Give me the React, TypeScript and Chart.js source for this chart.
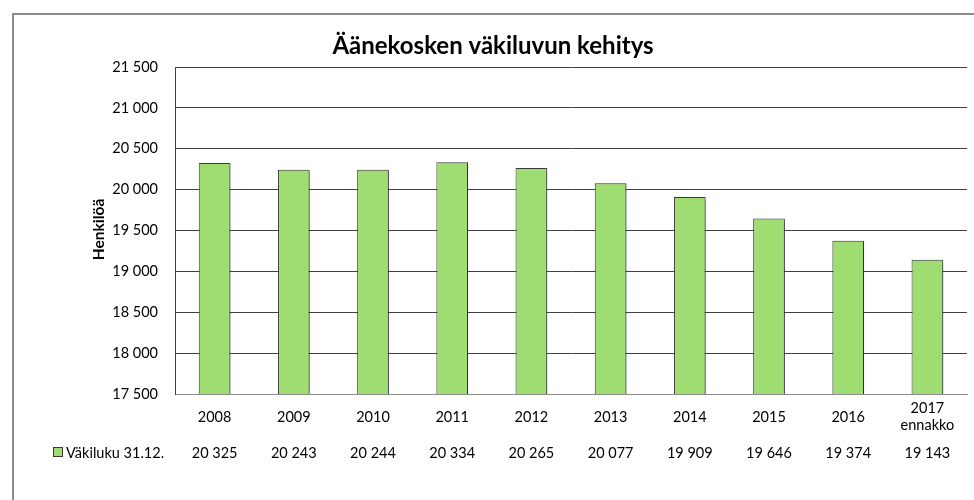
import React, { useEffect, useRef } from "react";
import { Chart, registerables } from "chart.js";

Chart.register(...registerables);

const title = "Äänekosken väkiluvun kehitys";
const yTitle = "Henkilöä";
const seriesName = "Väkiluku 31.12.";
const categories: (string | string[])[] = ["2008", "2009", "2010", "2011", "2012", "2013", "2014", "2015", "2016", ["2017", "ennakko"]];
const values = [20325, 20243, 20244, 20334, 20265, 20077, 19909, 19646, 19374, 19143];
const yMin = 17500;
const yMax = 21500;
const yStep = 500;

const FONT = "Lato, 'Noto Sans', sans-serif";
const BAR = "#9fdc72";
const BAR_BORDER = "#3a3a3a";

const fmt = (v: number) => {
  const s = Math.round(v).toString();
  return s.replace(/\B(?=(\d{3})+(?!\d))/g, " ");
};

const decor = {
  id: "decor",
  beforeDraw(chart: any) {
    const ctx = chart.ctx;
    ctx.save();
    ctx.fillStyle = "#ffffff";
    ctx.fillRect(0, 0, chart.width, chart.height);
    ctx.strokeStyle = "#8c8c8c";
    ctx.lineWidth = 2;
    ctx.beginPath();
    ctx.moveTo(13, chart.height);
    ctx.lineTo(13, 14);
    ctx.lineTo(chart.width, 14);
    ctx.stroke();
    ctx.restore();
  },
  beforeDatasetDraw(chart: any) {
    const ctx = chart.ctx;
    ctx.save();
    ctx.shadowColor = "rgba(0,0,0,0.35)";
    ctx.shadowOffsetX = 2;
    ctx.shadowOffsetY = 1;
    ctx.shadowBlur = 2;
  },
  afterDatasetDraw(chart: any) {
    chart.ctx.restore();
  },
  afterDraw(chart: any) {
    const ctx = chart.ctx;
    const xs = chart.scales.x;
    const area = chart.chartArea;
    ctx.save();
    // title
    ctx.fillStyle = "#000";
    ctx.textAlign = "center";
    ctx.textBaseline = "middle";
    ctx.font = `bold 24px ${FONT}`;
    ctx.fillText(title, (area.left + area.right) / 2 - 78, 46);
    // y title
    ctx.save();
    ctx.translate(99, (area.top + area.bottom) / 2 - 1);
    ctx.rotate(-Math.PI / 2);
    ctx.font = `bold 15.5px ${FONT}`;
    ctx.fillText(yTitle, 0, 0);
    ctx.restore();
    // category labels
    ctx.font = `14.5px ${FONT}`;
    categories.forEach((c, i) => {
      const x = xs.getPixelForValue(i);
      const lines = Array.isArray(c) ? c : [c];
      const lh = 17;
      const y0 = 417 - ((lines.length - 1) * lh) / 2;
      lines.forEach((l, j) => ctx.fillText(l, x, y0 + j * lh));
    });
    // data table row
    const rowY = 453;
    values.forEach((v, i) => {
      ctx.fillText(fmt(v), xs.getPixelForValue(i), rowY);
    });
    // legend key
    ctx.fillStyle = BAR;
    ctx.fillRect(53.5, 447.5, 9, 9);
    ctx.strokeStyle = BAR_BORDER;
    ctx.lineWidth = 1;
    ctx.strokeRect(53.5, 447.5, 9, 9);
    ctx.fillStyle = "#000";
    ctx.textAlign = "left";
    ctx.fillText(seriesName, 66, rowY);
    ctx.restore();
  },
};

export default function App() {
  const ref = useRef<HTMLCanvasElement>(null);
  useEffect(() => {
    document.body.style.margin = "0";
    const chart = new Chart(ref.current!, {
      type: "bar",
      data: {
        labels: categories.map((c) => (Array.isArray(c) ? c.join(" ") : c)),
        datasets: [
          {
            label: seriesName,
            data: values,
            backgroundColor: BAR,
            borderColor: BAR_BORDER,
            borderWidth: 1,
            barPercentage: 0.4,
            categoryPercentage: 1,
          },
        ],
      },
      options: {
        responsive: false,
        animation: false,
        devicePixelRatio: 1,
        layout: { padding: { left: 0, right: 7, top: 67, bottom: 106 } },
        plugins: { legend: { display: false }, title: { display: false }, tooltip: { enabled: false } },
        scales: {
          x: {
            grid: { display: false },
            border: { display: true, color: "#8c8c8c", width: 1 },
            ticks: { display: false },
            afterFit: (s: any) => {
              s.height = 0;
            },
          },
          y: {
            min: yMin,
            max: yMax,
            grid: {
              color: (c: any) => (c.tick && c.tick.value === yMin ? "#8c8c8c" : "#404040"),
              drawTicks: false,
            },
            border: { display: true, color: "#404040", width: 1 },
            ticks: {
              stepSize: yStep,
              padding: 17,
              color: "#000",
              font: { family: FONT, size: 14.5 },
              callback: (v: any) => fmt(Number(v)),
            },
            afterFit: (s: any) => {
              s.width = 175;
            },
          },
        },
      },
      plugins: [decor],
    });
    return () => chart.destroy();
  }, []);
  return (
    <div style={{ position: "absolute", left: 0, top: 0, width: 974, height: 500 }}>
      <canvas ref={ref} width={974} height={500} style={{ display: "block" }} />
    </div>
  );
}
